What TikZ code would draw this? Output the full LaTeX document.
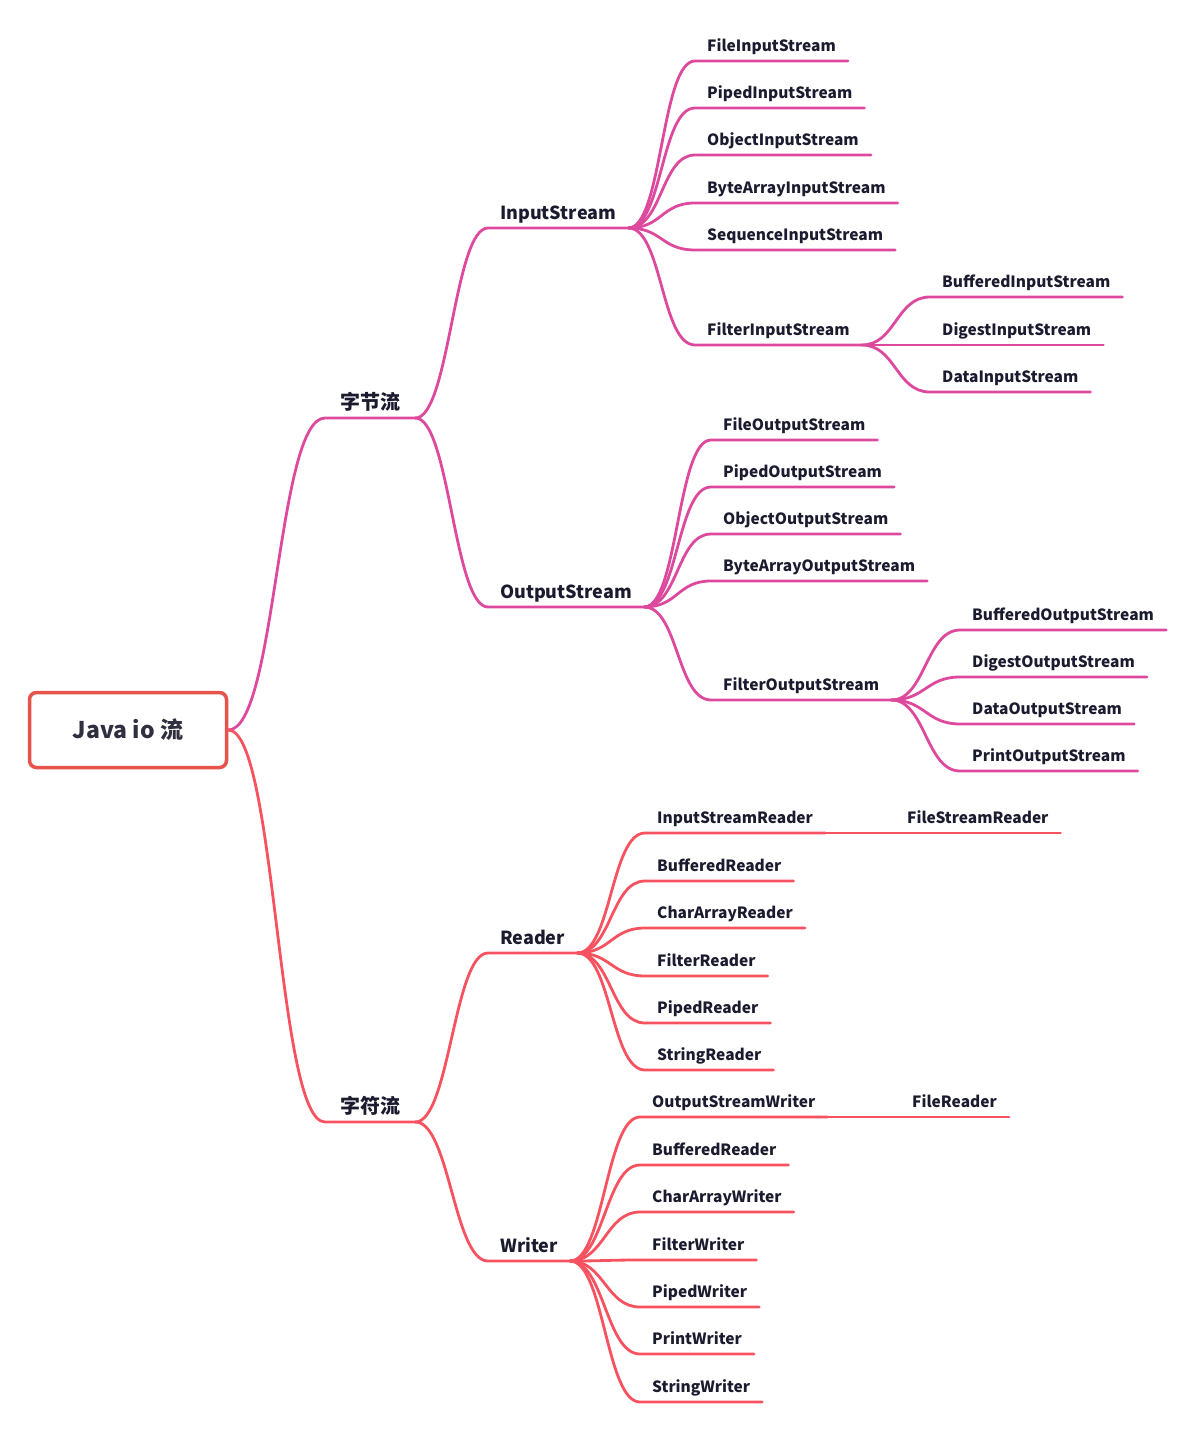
\documentclass[tikz,border=0pt]{standalone}
\usepackage{fontspec}
\setmainfont{Noto Sans CJK SC}
\usepackage{xcolor}

\definecolor{bytepink}{HTML}{DD4A9D}
\definecolor{charred}{HTML}{F7525F}
\definecolor{rootred}{HTML}{E5534B}
\definecolor{ink}{HTML}{1B1B2F}

\begin{document}
\begin{tikzpicture}[x=1pt, y=-1pt,
  rootbox/.style={draw=rootred, line width=3.5pt, rounded corners=7pt, minimum width=197pt,
    minimum height=75pt, font=\bfseries\fontsize{23}{27}\selectfont, text=ink!80!gray},
  topic/.style={anchor=south west, inner xsep=15pt, inner ysep=4pt, text height=15pt,
    text depth=4pt, font=\bfseries\fontsize{20}{24}\selectfont, text=ink},
  subtopic/.style={topic, inner xsep=12pt, text height=14pt, font=\bfseries\fontsize{18}{22}\selectfont},
  leaf/.style={topic, inner xsep=12pt, text height=12pt, inner ysep=5pt, font=\bfseries\fontsize{15.5}{19}\selectfont},
  bytebr/.style={draw=bytepink, line width=2.8pt, line cap=round},
  charbr/.style={draw=charred, line width=2.8pt, line cap=round},
  link/.style={to path={.. controls ([xshift=#1]\tikztostart) and ([xshift=-#1]\tikztotarget) .. (\tikztotarget)}},
  link/.default=34pt
]
  \useasboundingbox (0,0) rectangle (1196,1434);

  % root and main branches
  \node[rootbox] (root) at (128,730) {Java io 流};
  \node[topic] (byte) at (325,418) {字节流};
  \node[topic] (char) at (325,1122) {字符流};

  \node[subtopic] (in) at (488,228) {InputStream};
  \node[subtopic] (out) at (488,607) {OutputStream};
  \node[subtopic] (rd) at (488,953) {Reader};
  \node[subtopic] (wr) at (488,1261) {Writer};

  % InputStream
  \node[leaf] (fis) at (695,61) {FileInputStream};
  \node[leaf] (pis) at (695,108) {PipedInputStream};
  \node[leaf] (ois) at (695,155) {ObjectInputStream};
  \node[leaf] (bais) at (695,203) {ByteArrayInputStream};
  \node[leaf] (sis) at (695,250) {SequenceInputStream};
  \node[leaf] (filis) at (695,345) {FilterInputStream};
  \node[leaf] (bis) at (930,297) {BufferedInputStream};
  \node[leaf] (dgis) at (930,345) {DigestInputStream};
  \node[leaf] (dis) at (930,392) {DataInputStream};

  % OutputStream
  \node[leaf] (fos) at (711,440) {FileOutputStream};
  \node[leaf] (pos) at (711,487) {PipedOutputStream};
  \node[leaf] (oos) at (711,534) {ObjectOutputStream};
  \node[leaf] (baos) at (711,581) {ByteArrayOutputStream};
  \node[leaf] (filos) at (711,700) {FilterOutputStream};
  \node[leaf] (bos) at (960,630) {BufferedOutputStream};
  \node[leaf] (dgos) at (960,677) {DigestOutputStream};
  \node[leaf] (dos) at (960,724) {DataOutputStream};
  \node[leaf] (pros) at (960,771) {PrintOutputStream};

  % Reader
  \node[leaf] (isr) at (645,833) {InputStreamReader};
  \node[leaf] (fsr) at (895,833) {FileStreamReader};
  \node[leaf] (brd) at (645,881) {BufferedReader};
  \node[leaf] (card) at (645,928) {CharArrayReader};
  \node[leaf] (frd) at (645,976) {FilterReader};
  \node[leaf] (prd) at (645,1023) {PipedReader};
  \node[leaf] (srd) at (645,1070) {StringReader};

  % Writer
  \node[leaf] (osw) at (640,1117) {OutputStreamWriter};
  \node[leaf] (frw) at (900,1117) {FileReader};
  \node[leaf] (bwr) at (640,1165) {BufferedReader};
  \node[leaf] (cawr) at (640,1212) {CharArrayWriter};
  \node[leaf] (fwr) at (640,1260) {FilterWriter};
  \node[leaf] (pwr) at (640,1307) {PipedWriter};
  \node[leaf] (prwr) at (640,1354) {PrintWriter};
  \node[leaf] (swr) at (640,1402) {StringWriter};

  % byte stream branches
  \draw[bytebr] (root.east) to[link=48pt] (byte.south west) -- (byte.south east);
  \draw[bytebr] (byte.south east) to[link] (in.south west) -- (in.south east);
  \draw[bytebr] (byte.south east) to[link] (out.south west) -- (out.south east);
  \draw[bytebr] (in.south east) to[link] (fis.south west) -- (fis.south east);
  \draw[bytebr] (in.south east) to[link] (pis.south west) -- (pis.south east);
  \draw[bytebr] (in.south east) to[link] (ois.south west) -- (ois.south east);
  \draw[bytebr] (in.south east) to[link] (bais.south west) -- (bais.south east);
  \draw[bytebr] (in.south east) to[link] (sis.south west) -- (sis.south east);
  \draw[bytebr] (in.south east) to[link] (filis.south west) -- (filis.south east);
  \draw[bytebr] (filis.south east) to[link] (bis.south west) -- (bis.south east);
  \draw[bytebr] (filis.south east) to[link] (dgis.south west) -- (dgis.south east);
  \draw[bytebr] (filis.south east) to[link] (dis.south west) -- (dis.south east);
  \draw[bytebr] (out.south east) to[link] (fos.south west) -- (fos.south east);
  \draw[bytebr] (out.south east) to[link] (pos.south west) -- (pos.south east);
  \draw[bytebr] (out.south east) to[link] (oos.south west) -- (oos.south east);
  \draw[bytebr] (out.south east) to[link] (baos.south west) -- (baos.south east);
  \draw[bytebr] (out.south east) to[link] (filos.south west) -- (filos.south east);
  \draw[bytebr] (filos.south east) to[link] (bos.south west) -- (bos.south east);
  \draw[bytebr] (filos.south east) to[link] (dgos.south west) -- (dgos.south east);
  \draw[bytebr] (filos.south east) to[link] (dos.south west) -- (dos.south east);
  \draw[bytebr] (filos.south east) to[link] (pros.south west) -- (pros.south east);

  % char stream branches
  \draw[charbr] (root.east) to[link=48pt] (char.south west) -- (char.south east);
  \draw[charbr] (char.south east) to[link] (rd.south west) -- (rd.south east);
  \draw[charbr] (char.south east) to[link] (wr.south west) -- (wr.south east);
  \draw[charbr] (rd.south east) to[link] (isr.south west) -- (isr.south east);
  \draw[charbr] (isr.south east) -- (fsr.south west) -- (fsr.south east);
  \draw[charbr] (rd.south east) to[link] (brd.south west) -- (brd.south east);
  \draw[charbr] (rd.south east) to[link] (card.south west) -- (card.south east);
  \draw[charbr] (rd.south east) to[link] (frd.south west) -- (frd.south east);
  \draw[charbr] (rd.south east) to[link] (prd.south west) -- (prd.south east);
  \draw[charbr] (rd.south east) to[link] (srd.south west) -- (srd.south east);
  \draw[charbr] (wr.south east) to[link] (osw.south west) -- (osw.south east);
  \draw[charbr] (osw.south east) -- (frw.south west) -- (frw.south east);
  \draw[charbr] (wr.south east) to[link] (bwr.south west) -- (bwr.south east);
  \draw[charbr] (wr.south east) to[link] (cawr.south west) -- (cawr.south east);
  \draw[charbr] (wr.south east) to[link] (fwr.south west) -- (fwr.south east);
  \draw[charbr] (wr.south east) to[link] (pwr.south west) -- (pwr.south east);
  \draw[charbr] (wr.south east) to[link] (prwr.south west) -- (prwr.south east);
  \draw[charbr] (wr.south east) to[link] (swr.south west) -- (swr.south east);
\end{tikzpicture}
\end{document}
